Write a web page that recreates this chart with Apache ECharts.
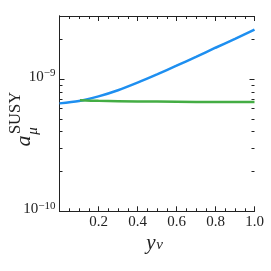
<!DOCTYPE html>
<html><head><meta charset="utf-8">
<script src="https://cdn.jsdelivr.net/npm/echarts@6/dist/echarts.min.js"></script>
<style>html,body{margin:0;padding:0;background:#fff}#c{width:271px;height:271px}</style>
</head><body><div id="c"></div>
<script>
var blueX = [0, 0.1, 0.2, 0.3, 0.4, 0.5, 0.6, 0.7, 0.8, 0.9, 1.0];
var blueY = [6.55e-10, 6.82e-10, 7.40e-10, 8.24e-10, 9.40e-10, 1.086e-9, 1.262e-9, 1.472e-9, 1.726e-9, 2.014e-9, 2.366e-9];
var greenX = [0.105, 0.2, 0.4, 0.6, 0.8, 1.0];
var greenY = [6.92e-10, 6.85e-10, 6.78e-10, 6.74e-10, 6.71e-10, 6.70e-10];
var yMin = 1e-10, yMax = 3e-9;
var yMajor = [1e-10, 1e-9];
var yMinor = [2e-10,3e-10,4e-10,5e-10,6e-10,7e-10,8e-10,9e-10,2e-9,3e-9];
var xTickLabels = ['', '0.2', '0.4', '0.6', '0.8', '1.0'];

function pairs(xs, ys){ return xs.map(function(x,i){return [x, ys[i]];}); }
function lg(v){ return Math.log10(v); }
var FONT = 'Liberation Serif';
var INK = '#222';
function xAx(pos, labels){
  return {type:'value', position:pos, min:0, max:1, interval:0.2,
    axisLine:{show:true, onZero:false, lineStyle:{color:INK, width:1}},
    axisTick:{show:true, inside:true, length:5, lineStyle:{color:INK}},
    minorTick:{show:true, splitNumber:4, length:3, lineStyle:{color:INK}},
    splitLine:{show:false}, minorSplitLine:{show:false},
    axisLabel:{show:labels, margin:3, color:INK, fontFamily:FONT, fontSize:15,
      formatter:function(v){ return xTickLabels[Math.round(v/0.2)]; }}};
}
// tick-only linear axes in log10 space, aligned with the log axis
function tickAx(pos, vals, len, lbl){
  return {type:'value', position:pos, min:lg(yMin), max:lg(yMax),
    axisLine:{show:false}, splitLine:{show:false},
    axisTick:{show:true, inside:true, length:len, customValues:vals.map(lg), lineStyle:{color:INK}},
    axisLabel:{show:lbl, customValues:vals.map(lg), margin:4, padding:[0,0,5,0],
      formatter:function(v){ return '{b|10}{s|\u2212' + Math.round(-v) + '}'; },
      rich:{b:{fontFamily:FONT, fontSize:15, color:INK, lineHeight:17},
            s:{fontFamily:FONT, fontSize:11, color:INK, verticalAlign:'top', lineHeight:11}}}};
}
var chart = echarts.init(document.getElementById('c'), null, {renderer:'canvas'});
chart.setOption({
  animation:false,
  grid:{left:59.5, right:16.5, top:16, bottom:59.7},
  xAxis:[xAx('bottom', true), xAx('top', false)],
  yAxis:[
    {type:'log', logBase:10, position:'left', min:yMin, max:yMax,
     axisLine:{show:true, lineStyle:{color:INK, width:1}}, axisTick:{show:false},
     axisLabel:{show:false}, splitLine:{show:false}},
    {type:'log', logBase:10, position:'right', min:yMin, max:yMax,
     axisLine:{show:true, lineStyle:{color:INK, width:1}}, axisTick:{show:false},
     axisLabel:{show:false}, splitLine:{show:false}},
    tickAx('left', yMajor, 5, true), tickAx('left', yMinor, 3, false),
    tickAx('right', yMajor, 5, false), tickAx('right', yMinor, 3, false)
  ],
  graphic:[
    {type:'text', x:16, y:113, rotation:Math.PI/2, style:{text:'SUSY', fontFamily:FONT, fontSize:16.5, fill:INK, align:'center', verticalAlign:'middle'}},
    {type:'text', x:24.5, y:141, rotation:Math.PI/2, style:{text:'a', fontFamily:FONT, fontStyle:'italic', fontSize:22, fill:INK, align:'center', verticalAlign:'middle'}},
    {type:'text', x:33, y:131, rotation:Math.PI/2, style:{text:'\u03BC', fontFamily:FONT, fontStyle:'italic', fontSize:15, fill:INK, align:'center', verticalAlign:'middle'}},
    {type:'text', x:151, y:243, style:{text:'y', fontFamily:FONT, fontStyle:'italic', fontSize:21, fill:INK, align:'center', verticalAlign:'middle'}},
    {type:'text', x:159.5, y:245, style:{text:'\u03BD', fontFamily:FONT, fontStyle:'italic', fontSize:15, fill:INK, align:'center', verticalAlign:'middle'}}
  ],
  series:[
    {type:'line', xAxisIndex:0, yAxisIndex:0, data:pairs(blueX, blueY), smooth:0.3, showSymbol:false,
     lineStyle:{color:'#1e8ff0', width:2.5}},
    {type:'line', xAxisIndex:0, yAxisIndex:0, data:pairs(greenX, greenY), smooth:0.3, showSymbol:false,
     lineStyle:{color:'#44ad44', width:2.5}}
  ]
});
</script></body></html>
